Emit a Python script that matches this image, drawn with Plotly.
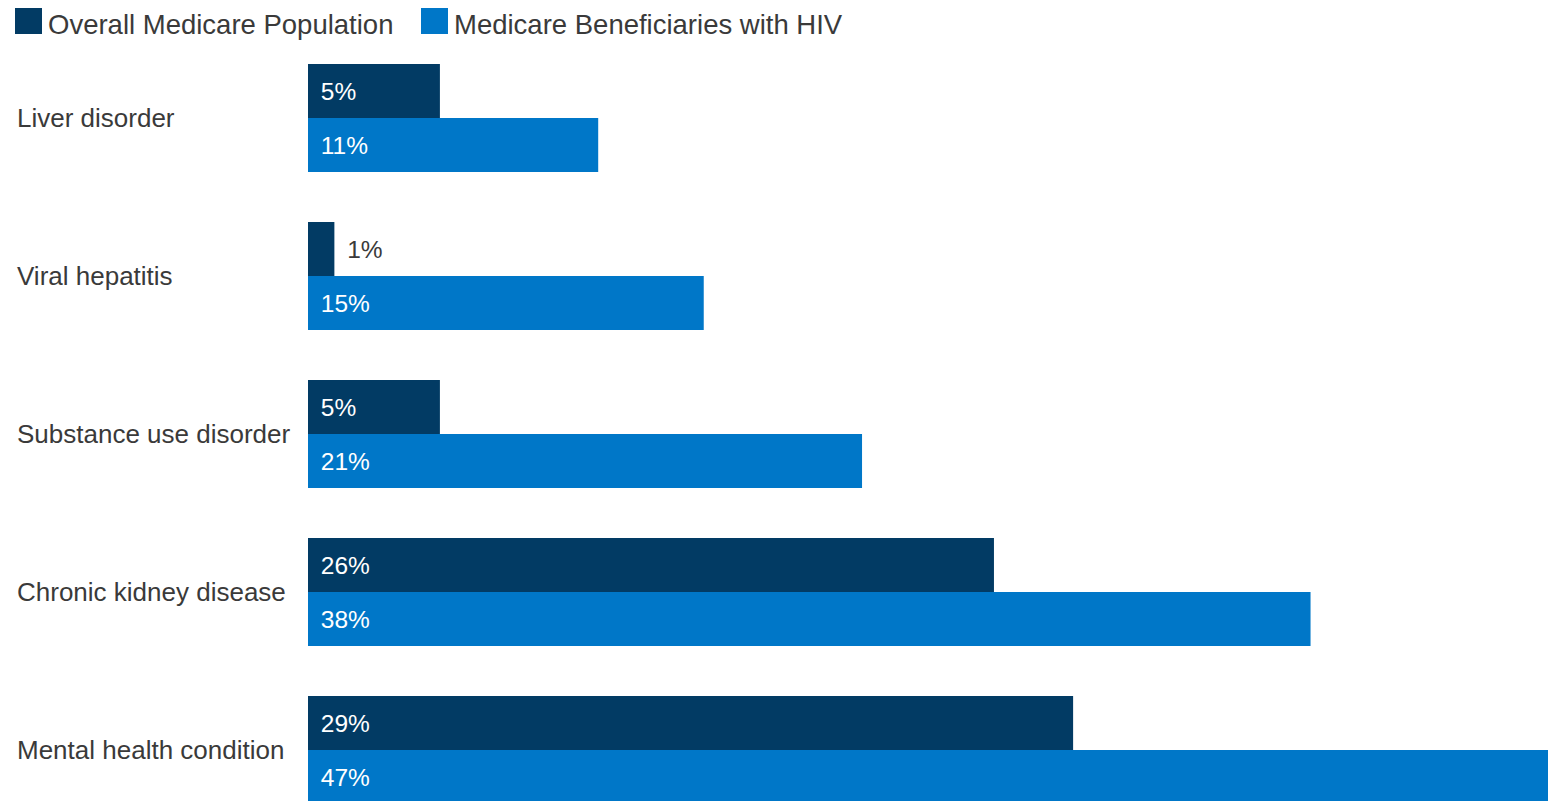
import plotly.graph_objects as go

categories = ["Liver disorder", "Viral hepatitis", "Substance use disorder",
              "Chronic kidney disease", "Mental health condition"]
overall = [5, 1, 5, 26, 29]
hiv = [11, 15, 21, 38, 47]
series_names = ["Overall Medicare Population", "Medicare Beneficiaries with HIV"]
colors = ["#023b64", "#0077c8"]

OFF = 8  # page body margin
W, H = 1562 - OFF, 801 - OFF
ML, MR, MT, MB = 308 - OFF, 14, 39 - OFF, 0
PW, PH = W - ML - MR, H - MT - MB
FONT = "Liberation Sans, Arial, sans-serif"
TXT = "#3a3a3a"

def px_x(x):
    return (x - OFF - ML) / PW

def px_y(y):
    return (H - MB - (y - OFF)) / PH

fig = go.Figure()
for name, vals, col in zip(series_names, [overall, hiv], colors):
    fig.add_trace(go.Bar(
        y=categories, x=vals, orientation="h", name=name,
        marker=dict(color=col, line=dict(width=0)),
        text=[f"\u2009\u2009{v}%" for v in vals],
        textposition="auto", insidetextanchor="start",
        insidetextfont=dict(color="white", size=24.5, family=FONT),
        outsidetextfont=dict(color=TXT, size=24.5, family=FONT),
        cliponaxis=False, showlegend=False,
        hovertemplate="%{y}: %{x}%<extra>" + name + "</extra>",
    ))

annotations = []
for c in categories:
    annotations.append(dict(
        x=px_x(15), xref="paper", y=c, yref="y", text=c, showarrow=False,
        xanchor="left", yanchor="middle",
        font=dict(size=26, color=TXT, family=FONT)))

shapes = []
for name, col, sx in zip(series_names, colors, [15, 421]):
    shapes.append(dict(type="rect", xref="paper", yref="paper",
                       x0=px_x(sx), x1=px_x(sx + 27), y0=px_y(34), y1=px_y(7),
                       fillcolor=col, line=dict(width=0)))
    annotations.append(dict(
        x=px_x(sx + 32), xref="paper", y=px_y(24), yref="paper", text=name,
        showarrow=False, xanchor="left", yanchor="middle", borderpad=0,
        font=dict(size=27.5, color=TXT, family=FONT)))

fig.update_layout(
    width=W, height=H, barmode="group", bargap=50 / 158, bargroupgap=0,
    margin=dict(l=ML, r=MR, t=MT, b=MB, pad=0),
    paper_bgcolor="white", plot_bgcolor="white",
    font=dict(family=FONT, color=TXT),
    xaxis=dict(range=[0, 47], visible=False, fixedrange=True),
    yaxis=dict(range=[-0.5 + PH / 158, -0.5], showticklabels=False,
               showgrid=False, zeroline=False, showline=False, ticks=""),
    annotations=annotations, shapes=shapes, uniformtext=dict(mode=False),
)
fig.write_html("out.html")
